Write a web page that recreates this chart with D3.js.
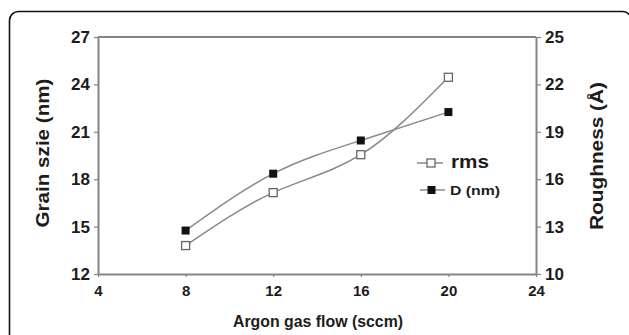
<!DOCTYPE html>
<html>
<head>
<meta charset="utf-8">
<script src="https://cdn.jsdelivr.net/npm/d3@7"></script>
<style>
  body { margin: 0; background: #fff; }
  svg { display: block; font-family: "Liberation Sans", Arial, sans-serif; }
</style>
</head>
<body>
<div id="chart"></div>
<script>
"use strict";

// data
var flow = [8, 12, 16, 20];
var grainSize = [14.75, 18.35, 20.45, 22.25];   // D (nm), left axis
var rms = [11.8, 15.15, 17.55, 22.45];          // roughness (A), right axis
var xTicks = [4, 8, 12, 16, 20, 24];
var leftTicks = [12, 15, 18, 21, 24, 27];
var rightTicks = [10, 13, 16, 19, 22, 25];

var W = 629, H = 335;
var margin = { top: 37, right: 93, bottom: 61, left: 98 };
var width = W - margin.left - margin.right;
var height = H - margin.top - margin.bottom;

var svg = d3.select("#chart").append("svg").attr("width", W).attr("height", H);

// outer rounded frame
svg.append("rect").attr("x", 9.5).attr("y", 11.5).attr("width", 622).attr("height", 340)
  .attr("rx", 9).attr("fill", "none").attr("stroke", "#111").attr("stroke-width", 1.6);

var g = svg.append("g").attr("transform", "translate(" + margin.left + "," + margin.top + ")");

var x = d3.scaleLinear().domain([4, 24]).range([0, width]);
var yL = d3.scaleLinear().domain([12, 27]).range([height, 0]);
var yR = d3.scaleLinear().domain([10, 25]).range([height, 0]);

var axisColor = "#858585";

function styleAxis(sel, size) {
  sel.selectAll("path.domain").attr("stroke", axisColor).attr("stroke-width", 2);
  sel.selectAll(".tick line").attr("stroke", axisColor).attr("stroke-width", 1.2);
  sel.selectAll(".tick text").attr("fill", "#1c1c1c").style("font-size", size + "px").style("font-weight", "bold");
}

// top frame line
g.append("line").attr("x1", 0).attr("x2", width).attr("y1", 0).attr("y2", 0)
  .attr("stroke", axisColor).attr("stroke-width", 2);

var gx = g.append("g").attr("transform", "translate(0," + height + ")")
  .call(d3.axisBottom(x).tickValues(xTicks).tickSize(3).tickSizeOuter(0).tickPadding(8).tickFormat(d3.format("d")));
styleAxis(gx, 15);

var gl = g.append("g")
  .call(d3.axisLeft(yL).tickValues(leftTicks).tickSize(4).tickSizeOuter(0).tickPadding(4).tickFormat(d3.format("d")));
styleAxis(gl, 17);

var gr = g.append("g").attr("transform", "translate(" + width + ",0)")
  .call(d3.axisRight(yR).tickValues(rightTicks).tickSize(5).tickSizeOuter(0).tickPadding(4).tickFormat(d3.format("d")));
styleAxis(gr, 17);

// lines
var lineL = d3.line().x(function (d, i) { return x(flow[i]); }).y(function (d) { return yL(d); }).curve(d3.curveNatural);
var lineR = d3.line().x(function (d, i) { return x(flow[i]); }).y(function (d) { return yR(d); }).curve(d3.curveNatural);

g.append("path").datum(rms).attr("d", lineR).attr("fill", "none").attr("stroke", "#8a8a8a").attr("stroke-width", 1.5);
g.append("path").datum(grainSize).attr("d", lineL).attr("fill", "none").attr("stroke", "#8a8a8a").attr("stroke-width", 1.5);

var s = 8;
g.selectAll("rect.rms").data(rms).enter().append("rect").attr("class", "rms")
  .attr("x", function (d, i) { return x(flow[i]) - s / 2; })
  .attr("y", function (d) { return yR(d) - s / 2; })
  .attr("width", s).attr("height", s)
  .attr("fill", "#fff").attr("stroke", "#666").attr("stroke-width", 1.3);

g.selectAll("rect.gs").data(grainSize).enter().append("rect").attr("class", "gs")
  .attr("x", function (d, i) { return x(flow[i]) - s / 2; })
  .attr("y", function (d) { return yL(d) - s / 2; })
  .attr("width", s).attr("height", s)
  .attr("fill", "#111");

// legend
var leg = svg.append("g").attr("transform", "translate(417,163)");
leg.append("line").attr("x1", 0).attr("x2", 26).attr("y1", 0).attr("y2", 0).attr("stroke", "#888").attr("stroke-width", 1.5);
leg.append("rect").attr("x", 10).attr("y", -4).attr("width", 8).attr("height", 8).attr("fill", "#fff").attr("stroke", "#666").attr("stroke-width", 1.3);
leg.append("text").attr("x", 34).attr("y", 5).attr("fill", "#1c1c1c").style("font-size", "18px").style("font-weight", "bold")
  .attr("textLength", 38).attr("lengthAdjust", "spacingAndGlyphs").text("rms");

leg.append("line").attr("x1", 3).attr("x2", 28).attr("y1", 27).attr("y2", 27).attr("stroke", "#888").attr("stroke-width", 1.5);
leg.append("rect").attr("x", 10.5).attr("y", 23).attr("width", 8).attr("height", 8).attr("fill", "#111");
leg.append("text").attr("x", 33).attr("y", 31.5).attr("fill", "#1c1c1c").style("font-size", "13px").style("font-weight", "bold")
  .attr("textLength", 50).attr("lengthAdjust", "spacingAndGlyphs").text("D (nm)");

// axis titles
svg.append("text").attr("text-anchor", "middle").attr("transform", "translate(49,153)rotate(-90)")
  .attr("fill", "#1c1c1c").style("font-size", "18px").style("font-weight", "bold")
  .attr("textLength", 149).attr("lengthAdjust", "spacingAndGlyphs").text("Grain szie (nm)");

svg.append("text").attr("text-anchor", "middle").attr("transform", "translate(603,156)rotate(-90)")
  .attr("fill", "#1c1c1c").style("font-size", "18px").style("font-weight", "bold")
  .attr("textLength", 148).attr("lengthAdjust", "spacingAndGlyphs").text("Roughness (Å)");

svg.append("text").attr("text-anchor", "middle").attr("x", 318).attr("y", 327)
  .attr("fill", "#1c1c1c").style("font-size", "16px").style("font-weight", "bold")
  .attr("textLength", 170).attr("lengthAdjust", "spacingAndGlyphs").text("Argon gas flow (sccm)");
</script>
</body>
</html>
